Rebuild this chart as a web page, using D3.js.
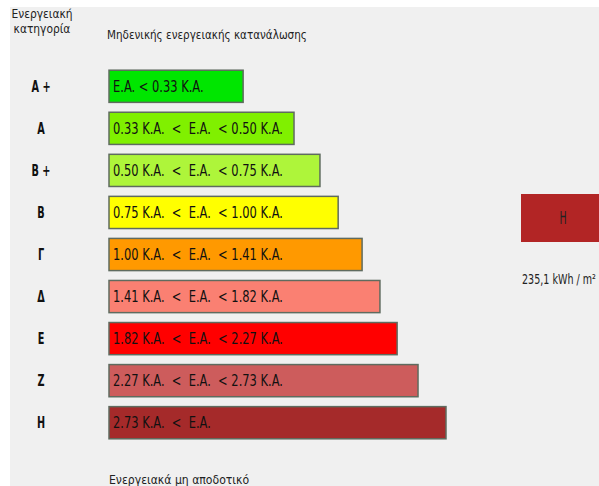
<!DOCTYPE html>
<html>
<head>
<meta charset="utf-8">
<script src="https://cdn.jsdelivr.net/npm/d3@7"></script>
<style>
  html, body { margin: 0; padding: 0; background: #ffffff; }
  svg { display: block; }
  text { font-family: "DejaVu Sans Condensed", "DejaVu Sans", sans-serif; }
</style>
</head>
<body>
<script>
// Energy class rows, top (most efficient) to bottom
const categories = ["A +", "A", "B +", "B", "Γ", "Δ", "E", "Z", "H"];
const rangeLabels = [
  "E.A. < 0.33 K.A.",
  "0.33 K.A.  <  E.A.  < 0.50 K.A.",
  "0.50 K.A.  <  E.A.  < 0.75 K.A.",
  "0.75 K.A.  <  E.A.  < 1.00 K.A.",
  "1.00 K.A.  <  E.A.  < 1.41 K.A.",
  "1.41 K.A.  <  E.A.  < 1.82 K.A.",
  "1.82 K.A.  <  E.A.  < 2.27 K.A.",
  "2.27 K.A.  <  E.A.  < 2.73 K.A.",
  "2.73 K.A.  <  E.A."
];
// Relative bar length per class (longest = 100)
const barLengths = [39.8, 54.9, 62.6, 68.0, 75.1, 80.4, 85.5, 91.7, 100];
const barColors = ["#00e600", "#80f000", "#aef53a", "#ffff00", "#ff9900", "#fa8072", "#ff0000", "#cd5c5c", "#a52a2a"];

// Assessed class of the building
const ratedClass = "H";
const ratedColor = "#b22525";
const ratedValue = "235,1 kWh / m²";

const W = 599, H = 486;
const svg = d3.select("body").append("svg").attr("width", W).attr("height", H);

// canvas background
svg.append("rect").attr("x", 10).attr("y", 7).attr("width", W - 10).attr("height", H - 7).attr("fill", "#f0f0f0");

const x = d3.scaleLinear().domain([0, 100]).range([0, 337]);
const y = d3.scaleBand().domain(categories).range([66, 443]).paddingInner(0.235).paddingOuter(0.1);
const x0 = 109;

// narrow-looking text: horizontally compressed glyphs
function narrowText(parent, tx, ty, str, opts) {
  const o = Object.assign({ size: 13, sx: 0.88, anchor: "start", weight: "normal", fill: "#222", dy: null }, opts || {});
  const t = parent.append("text")
    .attr("transform", `translate(${tx},${ty}) scale(${o.sx},1)`)
    .attr("text-anchor", o.anchor)
    .attr("font-size", o.size)
    .attr("font-weight", o.weight)
    .attr("fill", o.fill)
    .attr("style", "white-space: pre")
    .text(str);
  if (o.dy) t.attr("dy", o.dy);
  return t;
}

// header texts
narrowText(svg, 42, 18, "Ενεργειακή", { anchor: "middle", size: 12.5, sx: 0.95 });
narrowText(svg, 42, 33, "κατηγορία", { anchor: "middle", size: 12.5, sx: 0.95 });
narrowText(svg, 107, 39, "Μηδενικής ενεργειακής κατανάλωσης", { sx: 0.89 });
narrowText(svg, 109, 484, "Ενεργειακά μη αποδοτικό", { sx: 0.93 });

const rows = svg.append("g").selectAll("g").data(categories).join("g");

rows.each(function (d) {
  narrowText(d3.select(this), 41, y(d) + y.bandwidth() / 2, d,
    { anchor: "middle", size: 15, weight: "bold", sx: 0.72, fill: "#111", dy: "0.36em" });
});

rows.append("rect")
  .attr("x", x0).attr("y", d => y(d))
  .attr("width", (d, i) => x(barLengths[i])).attr("height", y.bandwidth())
  .attr("fill", (d, i) => barColors[i])
  .attr("stroke", "#5f6b5f").attr("stroke-width", 1.5);

rows.each(function (d, i) {
  narrowText(d3.select(this), x0 + 4, y(d) + y.bandwidth() / 2, rangeLabels[i],
    { size: 15, sx: 0.85, fill: "#111", dy: "0.36em" });
});

// rated class indicator
svg.append("rect").attr("x", 521).attr("y", 194).attr("width", 84).attr("height", 48).attr("fill", ratedColor);
narrowText(svg, 563, 218, ratedClass, { anchor: "middle", size: 17, sx: 0.62, fill: "#222", dy: "0.36em" });
narrowText(svg, 522, 284, ratedValue, { size: 14, sx: 0.76, fill: "#222" });
</script>
</body>
</html>
